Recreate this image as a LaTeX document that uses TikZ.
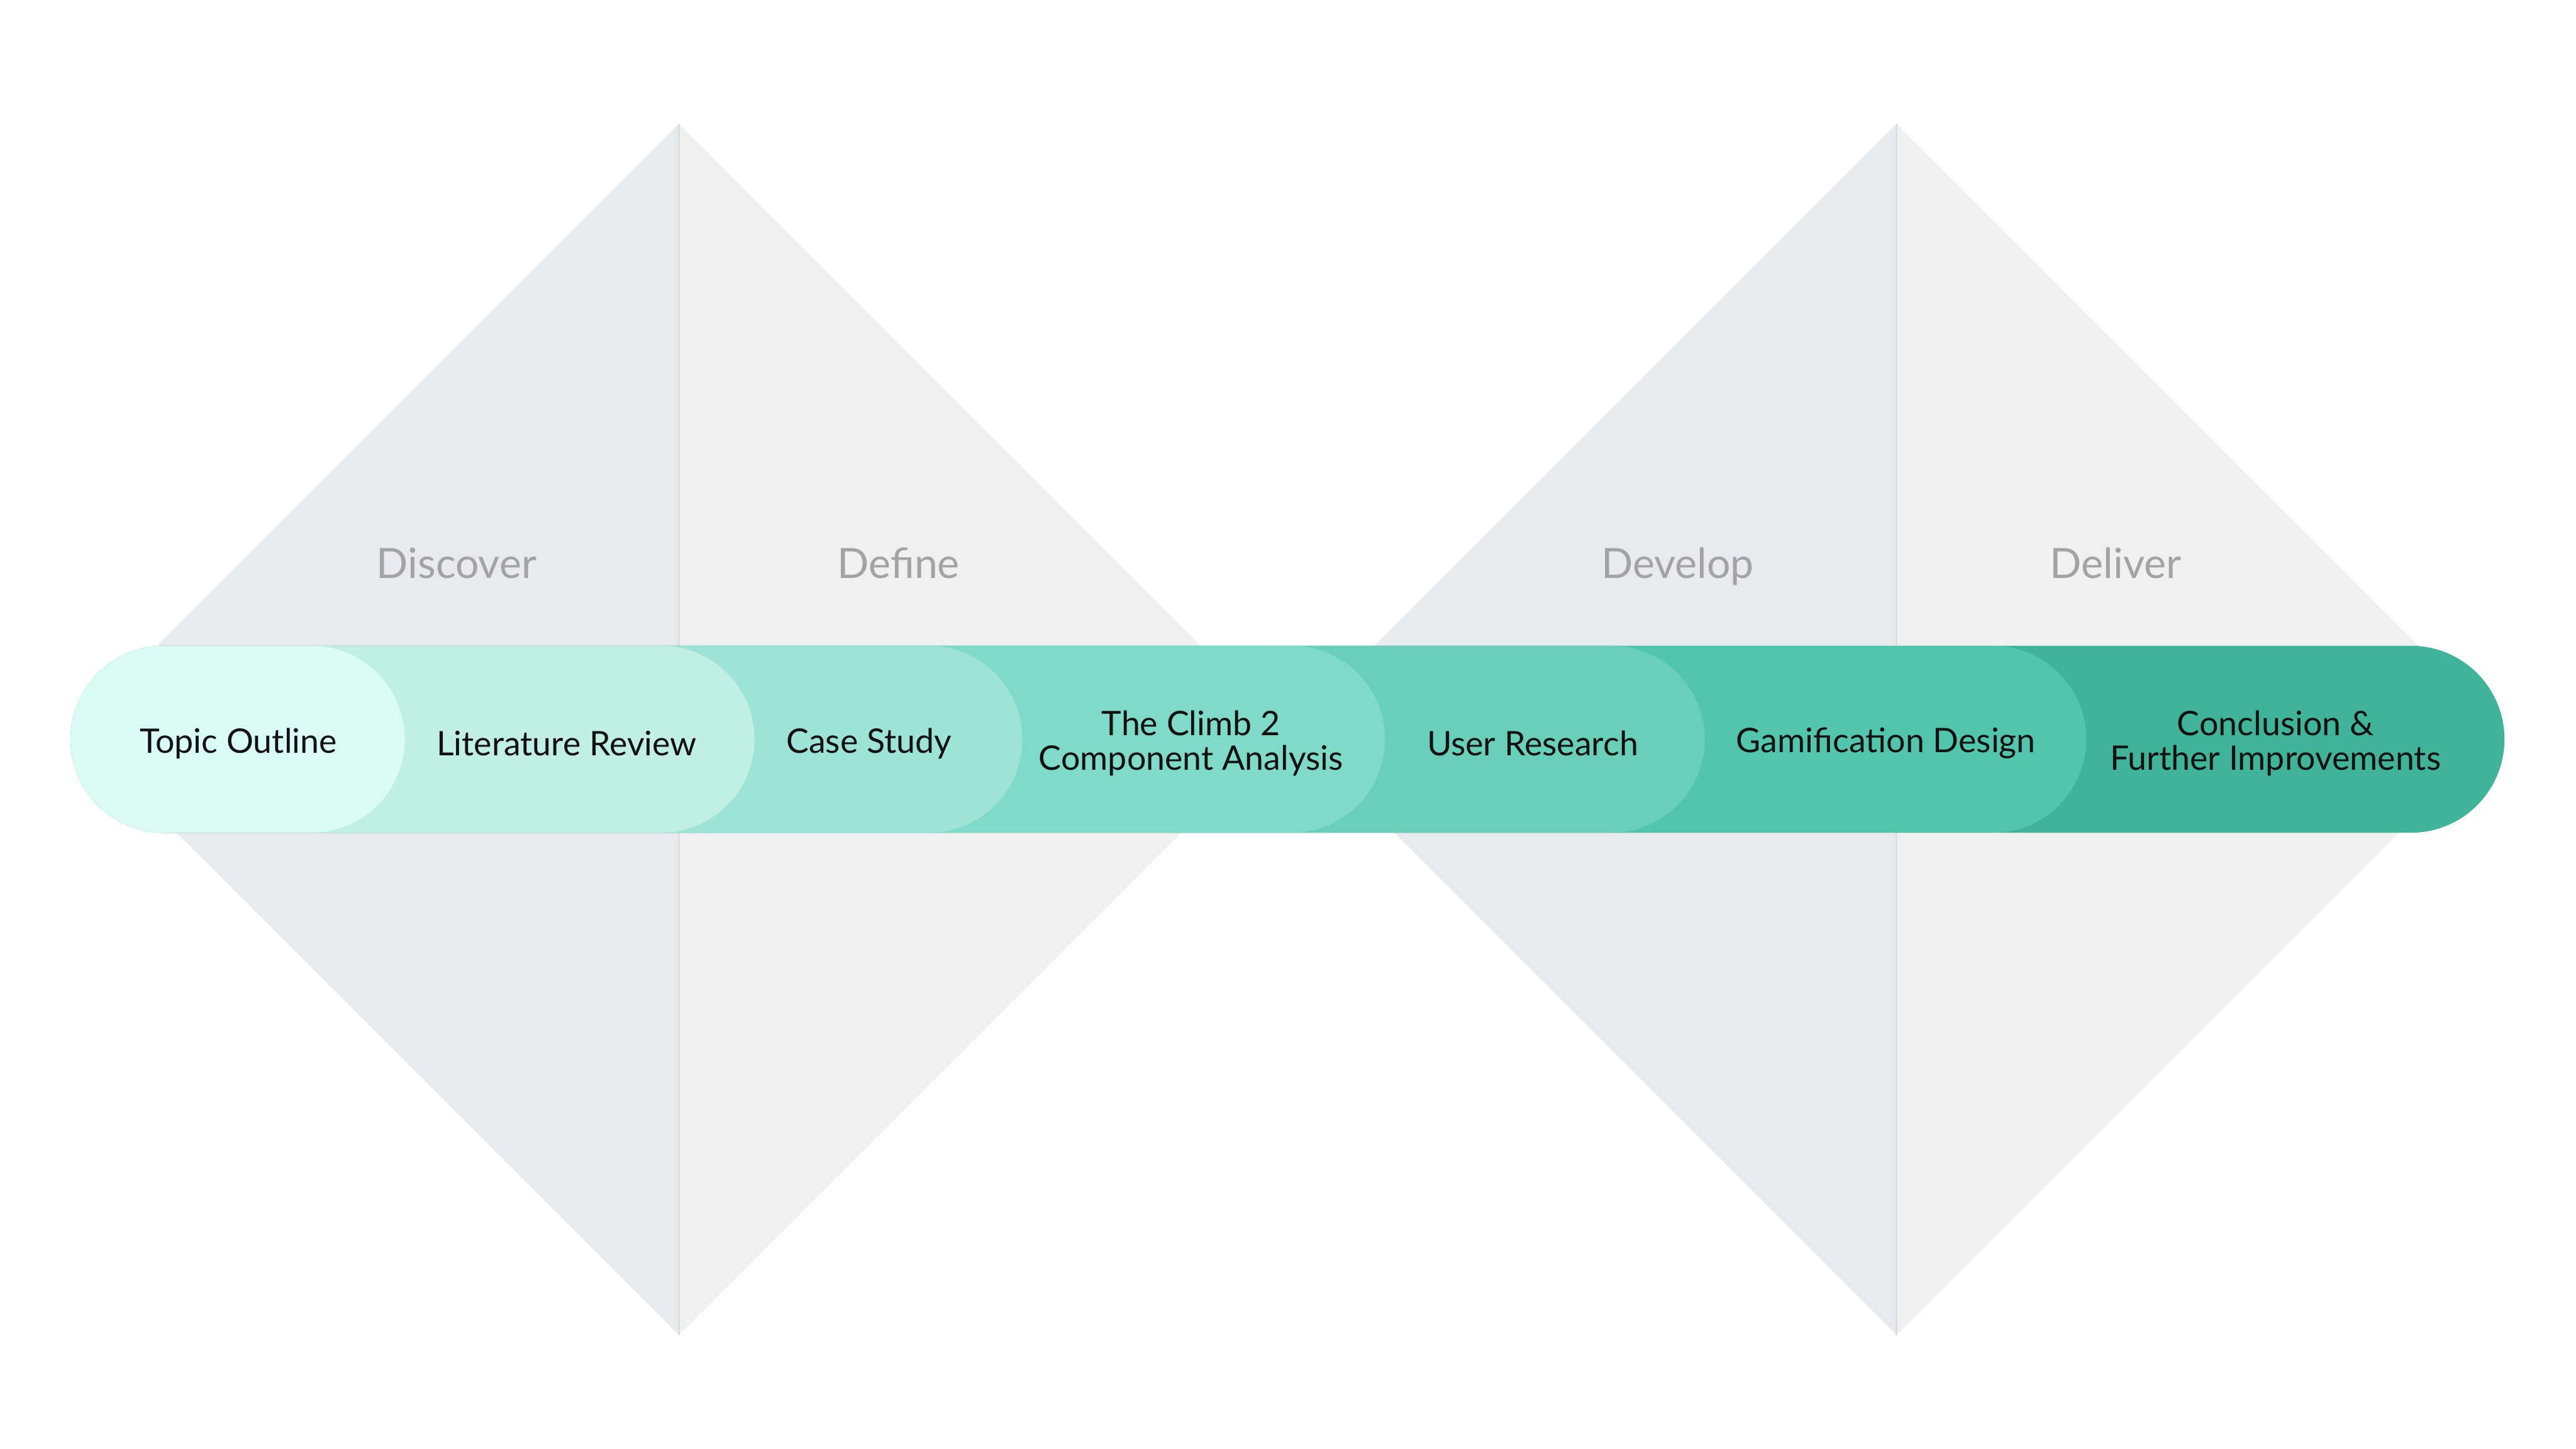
\documentclass[tikz,border=0pt]{standalone}
\usepackage{fontspec}
\setmainfont{Lato}
\definecolor{leftgrey}{HTML}{E9EAEE}
\definecolor{rightgrey}{HTML}{F0F0F0}
\definecolor{divider}{HTML}{DCDDE2}
\definecolor{phase}{HTML}{A3A3A3}
\definecolor{ink}{HTML}{111111}
\definecolor{stepA}{HTML}{D9FCF5}
\definecolor{stepB}{HTML}{C1EFE4}
\definecolor{stepC}{HTML}{9DE4D6}
\definecolor{stepD}{HTML}{7FDBC8}
\definecolor{stepE}{HTML}{69CFB9}
\definecolor{stepF}{HTML}{52C6AC}
\definecolor{stepG}{HTML}{3FB499}

\begin{document}
\begin{tikzpicture}[x=1mm,y=1mm,
  phaselabel/.style={text=phase,inner sep=0pt,anchor=base,font=\fontsize{26.5}{30}\selectfont},
  steplabel/.style={text=ink,inner sep=0pt,align=center,font=\fontsize{21.5}{22.2}\selectfont},
  stepbar/.style={rounded corners=20.9mm}]
  \fill[white] (0,0) rectangle (576,324);
  \useasboundingbox (0,0) rectangle (576,324);
  % double diamond
  \foreach \cx in {151.8,424.1} {
    \fill[leftgrey] (\cx,296.3) -- (\cx-135.4,160.9) -- (\cx,25.5) -- cycle;
    \fill[rightgrey] (\cx,296.3) -- (\cx+135.4,160.9) -- (\cx,25.5) -- cycle;
    \draw[divider,line width=0.4mm] (\cx,296.3) -- (\cx,25.5);
  }
  \node[phaselabel] (discover) at (102.1,194.7) {Discover};
  \node[phaselabel] (define) at (200.9,194.7) {Define};
  \node[phaselabel] (develop) at (375.1,194.7) {Develop};
  \node[phaselabel] (deliver) at (473.1,194.7) {Deliver};
  % steps, widest first
  \foreach \xr/\col in {560.0/stepG,466.5/stepF,381.2/stepE,309.7/stepD,228.6/stepC,168.7/stepB,90.5/stepA}
    \fill[\col,stepbar] (15.8,137.8) rectangle (\xr,179.6);
  \node[steplabel] (topic) at (53.3,157.8) {Topic Outline};
  \node[steplabel] (litreview) at (126.7,157.8) {Literature Review};
  \node[steplabel] (casestudy) at (194.3,157.8) {Case Study};
  \node[steplabel] (climb) at (266.3,157.8) {The Climb 2\\Component Analysis};
  \node[steplabel] (userresearch) at (342.7,157.8) {User Research};
  \node[steplabel] (gamification) at (421.7,157.8) {Gamification Design};
  \node[steplabel] (conclusion) at (508.8,157.8) {Conclusion \&\\Further Improvements};
\end{tikzpicture}
\end{document}
